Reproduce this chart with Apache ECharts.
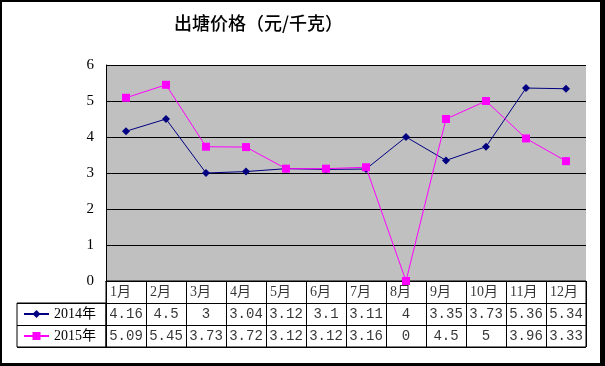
<!DOCTYPE html>
<html><head><meta charset="utf-8">
<script src="https://cdn.jsdelivr.net/npm/echarts@6/dist/echarts.min.js"></script>
<style>
html,body{margin:0;padding:0;background:#000;}
#wrap{position:relative;width:605px;height:366px;background:#000;}
#c{position:absolute;left:2px;top:2px;width:598px;height:361px;background:#fff;}
</style></head>
<body><div id="wrap"><div id="c"></div></div>
<script>
const months = ['1月','2月','3月','4月','5月','6月','7月','8月','9月','10月','11月','12月'];
const s2014 = [4.16, 4.5, 3, 3.04, 3.12, 3.1, 3.11, 4, 3.35, 3.73, 5.36, 5.34];
const s2015 = [5.09, 5.45, 3.73, 3.72, 3.12, 3.12, 3.16, 0, 4.5, 5, 3.96, 3.33];
const seriesNames = ['2014年', '2015年'];
const yTicks = [0, 1, 2, 3, 4, 5, 6];
const titleText = '出塘价格（元/千克）';

const rows = ['hdr', 'r2014', 'r2015'];
const headerCells = months.map((m, i) => ({ value: [i, 'hdr'], txt: m, label: { align: 'left', offset: [-16, 0], fontFamily: 'Liberation Serif, Noto Sans CJK SC' } }));
const cells2014 = s2014.map((v, i) => ({ value: [i, 'r2014'], txt: String(v) }));
const cells2015 = s2015.map((v, i) => ({ value: [i, 'r2015'], txt: String(v) }));

const chart = echarts.init(document.getElementById('c'), null, { renderer: 'canvas' });
chart.setOption({
  animation: false,
  backgroundColor: '#fff',
  title: {
    text: titleText, left: 172, top: 12, padding: 0,
    textStyle: { fontFamily: 'Noto Sans CJK SC', fontSize: 18, fontWeight: 500, color: '#000' }
  },
  legend: {
    data: seriesNames, orient: 'vertical', left: 21, top: 305, padding: 0,
    itemWidth: 25, itemHeight: 10, itemGap: 8,
    textStyle: { fontFamily: 'Liberation Serif, Noto Sans CJK SC', fontSize: 14, color: '#000', lineHeight: 14 }
  },
  grid: [
    { left: 104, top: 63, width: 480, height: 216, show: true, backgroundColor: '#C0C0C0', borderWidth: 0 },
    { left: 104, top: 279, width: 480, height: 66, show: true, backgroundColor: 'transparent', borderColor: '#000', borderWidth: 1 },
    { left: 15, top: 301, width: 89, height: 44, show: true, backgroundColor: 'transparent', borderColor: '#000', borderWidth: 1 }
  ],
  xAxis: [
    { gridIndex: 0, type: 'category', data: months, boundaryGap: true,
      axisLine: { lineStyle: { color: '#000' } }, axisTick: { show: false }, axisLabel: { show: false } },
    { gridIndex: 1, type: 'category', data: months, boundaryGap: true,
      axisLine: { show: false }, axisTick: { show: false }, axisLabel: { show: false },
      splitLine: { show: true, interval: 0, lineStyle: { color: '#000', width: 1 } } },
    { gridIndex: 2, type: 'category', data: [''], show: false }
  ],
  yAxis: [
    { gridIndex: 0, type: 'value', min: 0, max: 6, interval: 1,
      axisLine: { show: true, lineStyle: { color: '#000' } }, axisTick: { show: false },
      axisLabel: { margin: 12, color: '#000', fontFamily: 'Liberation Serif', fontSize: 15 },
      splitLine: { show: true, lineStyle: { color: '#000', width: 1 } } },
    { gridIndex: 1, type: 'category', data: rows, inverse: true, boundaryGap: true,
      axisLine: { show: false }, axisTick: { show: false }, axisLabel: { show: false },
      splitLine: { show: true, interval: 0, lineStyle: { color: '#000', width: 1 } } },
    { gridIndex: 2, type: 'category', data: ['a', 'b'], boundaryGap: true,
      axisLine: { show: false }, axisTick: { show: false }, axisLabel: { show: false },
      splitLine: { show: true, interval: 0, lineStyle: { color: '#000', width: 1 } } }
  ],
  series: [
    { name: seriesNames[0], type: 'line', xAxisIndex: 0, yAxisIndex: 0, data: s2014,
      symbol: 'diamond', symbolSize: 8, showAllSymbol: true,
      lineStyle: { color: '#000080', width: 1 }, itemStyle: { color: '#000080' } },
    { name: seriesNames[1], type: 'line', xAxisIndex: 0, yAxisIndex: 0, data: s2015,
      symbol: 'rect', symbolSize: 8, showAllSymbol: true,
      lineStyle: { color: '#FF00FF', width: 1 }, itemStyle: { color: '#FF00FF' } },
    { name: 'table', type: 'scatter', xAxisIndex: 1, yAxisIndex: 1, silent: true,
      symbol: 'rect', symbolSize: 1, itemStyle: { color: 'transparent' },
      data: headerCells.concat(cells2014, cells2015),
      label: { show: true, position: 'inside', color: '#000', fontFamily: 'Liberation Mono', fontSize: 14,
        formatter: p => p.data.txt } }
  ]
});
</script></body></html>
